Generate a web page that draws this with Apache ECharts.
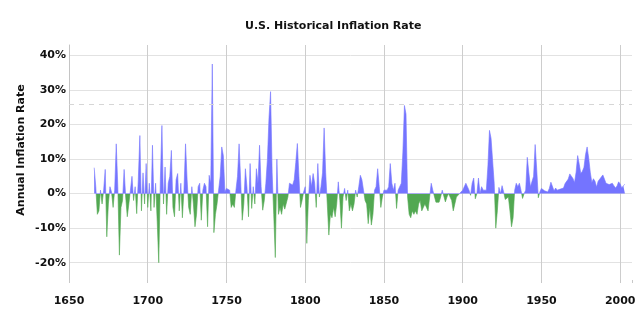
<!DOCTYPE html>
<html><head><meta charset="utf-8">
<script src="https://cdn.jsdelivr.net/npm/echarts@6/dist/echarts.min.js"></script>
<style>html,body{margin:0;padding:0;background:#fff}#c{width:640px;height:320px}</style>
</head><body><div id="c"></div>
<script>
// ---- data (annual inflation, %) ----
const firstYear = 1666;
const infl1666_1699 = [7.5, 2, -6, -5, 1, -3, 1, 7, -12.5, -3, 2, 0.5, -4, 1, 14.4, 2, -17.8, -4, -2, 7, -1, -6.7, -3, 1, 5, -2, 2, -5.8, 4, 16.8, -5, 6, -3, 8.7];
const infl1700_1749 = [-4, 3, -5, 14, -4, 3, -8, -20, 4, 19.7, -3, 7.7, -6, 3, 5, 12.5, -4, -6.7, 4, 5.8, -5, 3, -7, 1, 14.4, 4, -4, -6, 2, -3, -9.6, -6, 2, 3, -7.7, 1, 3, 2, -9.6, 5.3, 3, 37.5, -11.3, -6, -3, 1, 5, 13.5, 11, 0.5];
const infl1750_1799 = [1.5, 1.5, 1, -4, -3, -4, 1, 5, 14.4, 4, -7.7, -3, 7.2, 2, -6.7, 8.7, -4.3, 2, -3, 7.2, 3, 14, 2, -4.8, -2, 3, 10, 22, 29.5, 6, -6, -18.5, 10, -6, -4, -6, -3, -4.5, -5, -1, 3, 3, 2.5, 4, 9, 14.5, 5, -4, -2, 0.5];
const infl1800_1849 = [2, -14.4, -2, 5.3, 2, 5.8, 3, -4, 8.7, -1, 2, 6, 19, 6, -3, -12, -6, -7, -4, -6.7, -3, 3.4, -2, -10, -1, 1.5, -2, 1, -5, -3, -5, -3, 1, -1, 2, 5.3, 4, 1, -2, -3, -8.7, -4, -9.1, -6, 1, 2, 7.2, 2, -4, -1];
const infl1850_1899 = [1, 0.5, 1, 2, 8.7, 3, 1, 3, -4.3, 1, 0.5, 3, 12, 25.5, 23, -1, -6, -7, -5, -6, -5, -6, -3, -2, -5, -4, -3, -4, -5, -1, 3, 1, 0.5, -2.5, -2, -2.5, -1, 1, 0.5, -2.4, -1, 0, -0.5, -2, -5, -3, -1, -0.5, 0, 0.5];
const infl1900_1949 = [1, 1.5, 3, 2, 1, -0.5, 3, 4.5, -1.5, 0, 4.5, 0, 2, 1, 1, 1, 8, 18.3, 16, 15.9, 3, -10, -5, 1.8, 0, 2.3, 0.5, -1.7, -1.2, -1, -5, -9.6, -7, 1, 3, 2, 3, 1, -1.4, 0, 1, 10.5, 6, 2, 2, 5, 14.2, 7, -1.2, 0.5];
const infl1950_2003 = [1.5, 1.5, 0.8, 0.7, 0.5, 1.5, 3.3, 2.8, 0.8, 1.6, 1, 1, 1.3, 1.3, 1.6, 2.9, 3.1, 4.2, 5.7, 5.7, 4.4, 3.2, 6.2, 11, 8.5, 5.8, 6.5, 7.6, 11.3, 13.5, 10.3, 6.2, 3.2, 4.3, 3.6, 1.9, 3.6, 4.1, 4.8, 5.4, 4.2, 3.0, 3.0, 2.6, 2.8, 3.0, 2.3, 1.6, 2.2, 3.4, 2.8, 1.6, 2.3, 2.7];
const referenceLine = 25.9;
const yearTickStep = 50;
const titleText = 'U.S. Historical Inflation Rate';
const yAxisTitle = 'Annual Inflation Rate';

const values = [].concat(infl1666_1699, infl1700_1749, infl1750_1799, infl1800_1849, infl1850_1899, infl1900_1949, infl1950_2003);
const seriesData = values.map((v, i) => [firstYear + i, v]);

// ---- layout ----
const X_MIN = 1650, X_MAX = 2007.5;
const Y0_MIN = -25, Y0_MAX = 43;   // full plot range
const Y1_MIN = -20, Y1_MAX = 40;   // labelled range
const G_LEFT = 69, G_RIGHT = 8, G_TOP = 45, G_BOTTOM = 40, H = 320;
const k = (H - G_TOP - G_BOTTOM) / (Y0_MAX - Y0_MIN);
const g1Top = G_TOP + (Y0_MAX - Y1_MAX) * k;
const g1Bottom = G_BOTTOM + (Y1_MIN - Y0_MIN) * k;

const FONT = 'DejaVu Sans';
const FS = 11;
const BLUE = '#7474ff', GREEN = '#52a852';

const chart = echarts.init(document.getElementById('c'), null, {renderer: 'canvas'});
chart.setOption({
  animation: false,
  backgroundColor: '#fff',
  title: {
    text: titleText, left: 240, top: 16,
    textStyle: {fontFamily: FONT, fontSize: FS, fontWeight: 'bold', color: '#111'}
  },
  graphic: [{
    type: 'text', x: 21, y: 150, rotation: Math.PI / 2,
    style: {text: yAxisTitle, font: 'bold ' + FS + 'px "DejaVu Sans"', fill: '#111', align: 'center', verticalAlign: 'middle'}
  }],
  grid: [
    {left: G_LEFT, right: G_RIGHT, top: G_TOP, bottom: G_BOTTOM},
    {left: G_LEFT, right: G_RIGHT, top: g1Top, bottom: g1Bottom}
  ],
  xAxis: [{
    gridIndex: 0, type: 'value', min: X_MIN, max: X_MAX, interval: yearTickStep,
    axisLine: {show: false, onZero: false},
    axisTick: {show: true, length: 3, lineStyle: {color: '#c8c8c8'}},
    axisLabel: {
      margin: 16, fontFamily: FONT, fontSize: FS, fontWeight: 'bold', color: '#111',
      formatter: v => (v % yearTickStep === 0 ? String(v) : '')
    },
    splitLine: {show: true, showMaxLine: false, lineStyle: {color: '#cdcdcd', width: 1}}
  }, {
    gridIndex: 1, type: 'value', min: X_MIN, max: X_MAX, show: false
  }],
  yAxis: [{
    gridIndex: 0, type: 'value', min: Y0_MIN, max: Y0_MAX,
    axisLine: {show: true, lineStyle: {color: '#c4c4c4', width: 1}},
    axisTick: {show: false}, axisLabel: {show: false}, splitLine: {show: false}
  }, {
    gridIndex: 1, type: 'value', min: Y1_MIN, max: Y1_MAX, interval: 10,
    axisLine: {show: false}, axisTick: {show: false},
    axisLabel: {margin: 3, fontFamily: FONT, fontSize: FS, fontWeight: 'bold', color: '#111', formatter: '{value}%'},
    splitLine: {show: true, lineStyle: {color: '#e2e2e2', width: 1}}
  }],
  visualMap: {
    show: false, type: 'piecewise', seriesIndex: 0, dimension: 1,
    pieces: [{min: -100, max: 0, color: GREEN}, {gt: 0, lte: 100, color: BLUE}]
  },
  series: [{
    type: 'line', xAxisIndex: 0, yAxisIndex: 0,
    data: seriesData, symbol: 'none', showSymbol: false,
    lineStyle: {width: 0.6},
    areaStyle: {opacity: 1, origin: 0},
    markLine: {
      silent: true, symbol: 'none', label: {show: false},
      lineStyle: {color: '#d6d6d6', type: [5, 5], width: 1},
      data: [{yAxis: referenceLine}]
    }
  }]
});
</script>
</body></html>
